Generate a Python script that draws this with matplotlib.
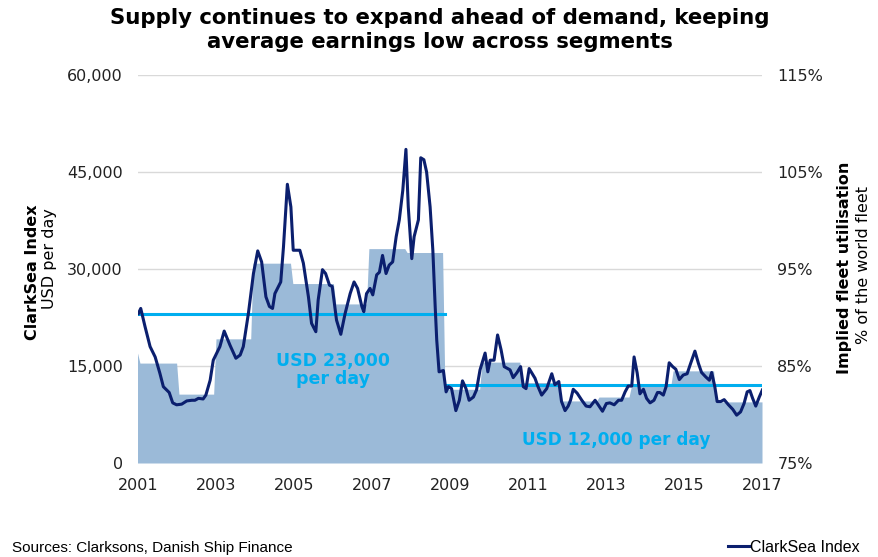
import numpy as np
import matplotlib.pyplot as plt
from matplotlib.ticker import FuncFormatter

# ClarkSea Index, USD per day (decimal years)
clarksea_year = [
    2001.01, 2001.07, 2001.18, 2001.31, 2001.44, 2001.56, 2001.65, 2001.80, 2001.89, 2001.99,
    2002.12, 2002.25, 2002.38, 2002.46, 2002.55, 2002.67, 2002.74, 2002.85, 2002.93, 2003.06,
    2003.10, 2003.21, 2003.36, 2003.51, 2003.62, 2003.70, 2003.83, 2003.96, 2004.07, 2004.17,
    2004.28, 2004.37, 2004.45, 2004.51, 2004.66, 2004.73, 2004.83, 2004.92, 2004.98, 2005.15,
    2005.24, 2005.37, 2005.45, 2005.56, 2005.62, 2005.73, 2005.81, 2005.91, 2005.98, 2006.09,
    2006.20, 2006.31, 2006.44, 2006.54, 2006.63, 2006.74, 2006.79, 2006.86, 2006.95, 2007.02,
    2007.12, 2007.19, 2007.27, 2007.36, 2007.44, 2007.53, 2007.62, 2007.70, 2007.79, 2007.87,
    2007.93, 2008.02, 2008.08, 2008.19, 2008.25, 2008.33, 2008.40, 2008.49, 2008.56, 2008.62,
    2008.66, 2008.72, 2008.83, 2008.90, 2008.96, 2009.04, 2009.15, 2009.24, 2009.32, 2009.41,
    2009.49, 2009.60, 2009.68, 2009.77, 2009.90, 2009.97, 2010.03, 2010.13, 2010.22, 2010.31,
    2010.39, 2010.54, 2010.62, 2010.72, 2010.81, 2010.88, 2010.95, 2011.03, 2011.18, 2011.25,
    2011.35, 2011.48, 2011.61, 2011.69, 2011.79, 2011.86, 2011.95, 2012.03, 2012.09, 2012.16,
    2012.26, 2012.38, 2012.49, 2012.59, 2012.72, 2012.80, 2012.91, 2013.01, 2013.10, 2013.21,
    2013.32, 2013.40, 2013.49, 2013.57, 2013.66, 2013.72, 2013.80, 2013.87, 2013.96, 2014.04,
    2014.13, 2014.23, 2014.32, 2014.38, 2014.47, 2014.54, 2014.62, 2014.71, 2014.79, 2014.88,
    2014.98, 2015.08, 2015.17, 2015.28, 2015.37, 2015.45, 2015.56, 2015.65, 2015.71, 2015.79,
    2015.85, 2015.94, 2016.03, 2016.14, 2016.25, 2016.35, 2016.45, 2016.54, 2016.62, 2016.69,
    2016.76, 2016.84, 2016.93, 2017.01,
]
clarksea_usd = [
    23100, 23900, 21100, 18000, 16400, 13900, 11800, 10900, 9300, 9000,
    9100, 9600, 9700, 9700, 10000, 9900, 10500, 12800, 15900, 17500,
    18000, 20400, 18200, 16200, 16700, 18000, 23100, 29300, 32800, 31100,
    25700, 24200, 23900, 26200, 28000, 33400, 43100, 39600, 32900, 32900,
    30900, 25700, 21600, 20300, 25200, 29900, 29300, 27500, 27300, 22100,
    19900, 23100, 26200, 28000, 27000, 24200, 23400, 26200, 27000, 26000,
    29100, 29500, 32100, 29300, 30600, 31100, 35000, 37600, 42200, 48500,
    39600, 31600, 35000, 37600, 47200, 46900, 45000, 39600, 32900, 24200,
    19000, 14100, 14300, 11000, 11800, 11500, 8100, 9700, 12700, 11500,
    9700, 10200, 11300, 14400, 17000, 14100, 15900, 15900, 19800, 17500,
    14900, 14400, 13200, 14000, 14900, 11800, 11500, 14600, 13100, 11900,
    10500, 11500, 13800, 12100, 12600, 9500, 8100, 8800, 9700, 11400,
    10800, 9700, 8800, 8700, 9700, 9000, 8000, 9200, 9300, 9000,
    9700, 9700, 11000, 11900, 11900, 16400, 13900, 10700, 11400, 10000,
    9300, 9700, 10900, 10900, 10500, 11800, 15500, 14900, 14500, 12900,
    13600, 13800, 15400, 17300, 15400, 14000, 13300, 12800, 14000, 11800,
    9500, 9500, 9800, 9000, 8300, 7400, 7900, 9200, 11000, 11200,
    10000, 8800, 10200, 11300,
]

# Implied fleet utilisation, % (yearly steps, start of each step)
util_start = [2000.92, 2001.05, 2002.05, 2003.0, 2003.95, 2004.97, 2006.07, 2006.92,
              2007.9, 2008.87, 2009.82, 2010.85, 2011.85, 2012.82, 2013.65, 2014.72, 2015.82]
util_pct = [86.3, 85.3, 82.1, 87.8, 95.6, 93.5, 91.4, 97.1,
            96.7, 82.6, 85.4, 83.3, 81.4, 81.8, 82.9, 84.5, 81.3]
util_end = 2017.0

# average earnings
avg_labels = ["USD 23,000\nper day", "USD 12,000 per day"]
avg_value = [23000, 12000]
avg_from = [2001.0, 2008.87]
avg_to = [2008.87, 2017.0]

navy = "#0B1F6E"
light_blue = "#00AEEF"
area_col = "#9BBAD8"

fig = plt.figure(figsize=(8.79, 5.57), dpi=100)
ax = fig.add_axes([138 / 879, 1 - 463 / 557, (762 - 138) / 879, (463 - 75) / 557])
ax2 = ax.twinx()

# stepped area with short ramps between years
xs, ys = [], []
ends = util_start[1:] + [util_end]
for s, e, v in zip(util_start, ends, util_pct):
    xs += [s, e - 0.06]
    ys += [v, v]
xs[-1] = util_end
ax2.fill_between(xs, ys, 75, color=area_col, lw=0)
ax2.set_ylim(75, 115)
ax2.set_yticks([75, 85, 95, 105, 115])
ax2.yaxis.set_major_formatter(FuncFormatter(lambda v, p: f"{v:.0f}%"))
ax2.grid(axis="y", color="#D9D9D9", lw=1)
ax2.set_axisbelow(True)

ax.set_zorder(ax2.get_zorder() + 1)
ax.patch.set_visible(False)

for v, a, b in zip(avg_value, avg_from, avg_to):
    ax.plot([a, b], [v, v], color=light_blue, lw=2.2)
ax.text(2006.0, 14400, avg_labels[0], color=light_blue, fontsize=12.5, fontweight="bold",
        ha="center", va="center", linespacing=1.05)
ax.text(2013.25, 3500, avg_labels[1], color=light_blue, fontsize=12.2, fontweight="bold",
        ha="center", va="center")

ax.plot(clarksea_year, clarksea_usd, color=navy, lw=2.2, label="ClarkSea Index")

ax.set_xlim(2001, 2017)
ax.set_ylim(0, 60000)
ax.set_yticks(np.arange(0, 60001, 15000))
ax.yaxis.set_major_formatter(FuncFormatter(lambda v, p: f"{v:,.0f}"))
ax.set_xticks(range(2001, 2018, 2))

for a in (ax, ax2):
    for sp in a.spines.values():
        sp.set_visible(False)
    a.tick_params(length=0, labelsize=11.5, colors="#222222")
ax.tick_params(axis="y", pad=11)
ax.tick_params(axis="x", pad=11)
ax2.tick_params(axis="y", pad=11)

fig.text(0.5, 1 - 30 / 557,
         "Supply continues to expand ahead of demand, keeping\naverage earnings low across segments",
         fontsize=15.3, fontweight="bold", ha="center", va="center", linespacing=1.25)

fig.text(33 / 879, 1 - 272 / 557, "ClarkSea Index", rotation=90, fontsize=11.5, fontweight="bold",
         ha="center", va="center")
fig.text(50 / 879, 1 - 259 / 557, "USD per day", rotation=90, fontsize=11.5,
         ha="center", va="center")
fig.text(845 / 879, 1 - 268 / 557, "Implied fleet utilisation", rotation=90, fontsize=11.5,
         fontweight="bold", ha="center", va="center")
fig.text(864 / 879, 1 - 265 / 557, "% of the world fleet", rotation=90, fontsize=11.5,
         ha="center", va="center")

fig.text(12 / 879, 2 / 557, "Sources: Clarksons, Danish Ship Finance", fontsize=11,
         family="Liberation Sans", ha="left", va="bottom")
fig.legend(loc="center right", bbox_to_anchor=(868 / 879, 1 - 547 / 557), frameon=False,
           handlelength=1.3, handletextpad=0.1, borderpad=0, prop={"family": "Liberation Sans", "size": 11.5})

fig.savefig("out.png", dpi=100)
